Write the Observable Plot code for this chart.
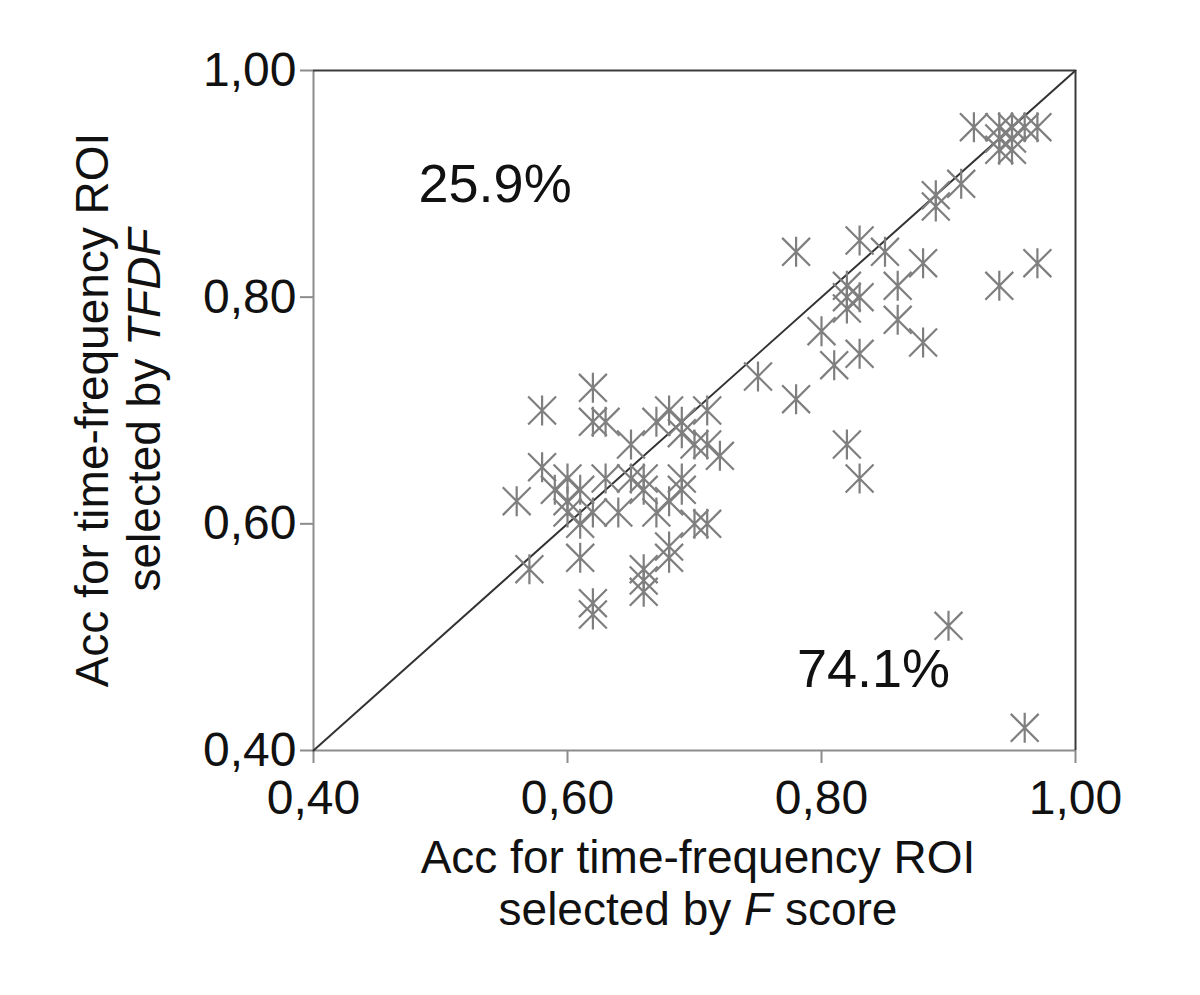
<!DOCTYPE html>
<html>
<head>
<meta charset="utf-8">
<script src="https://cdn.jsdelivr.net/npm/d3@7"></script>
<script src="https://cdn.jsdelivr.net/npm/@observablehq/plot@0.6"></script>
<style>
  html, body { margin: 0; padding: 0; background: #fff; }
  #chart { width: 1200px; height: 995px; }
  svg text { font-family: "Liberation Sans", Arial, sans-serif; }
</style>
</head>
<body>
<div id="chart"></div>
<script>
// Accuracy with F-score ROI (x) vs TFDF ROI (y)
const accF = [
  0.92, 0.94, 0.95, 0.96, 0.97, 0.94, 0.95, 0.95, 0.94, 0.91, 0.89, 0.89,
  0.97, 0.94, 0.96, 0.90,
  0.78, 0.83, 0.85, 0.88, 0.86, 0.82, 0.82, 0.83, 0.82, 0.86, 0.80, 0.83, 0.88, 0.81, 0.75, 0.78, 0.82, 0.83,
  0.62, 0.58, 0.62, 0.63, 0.68, 0.71, 0.67, 0.69, 0.70, 0.71, 0.72, 0.65, 0.69,
  0.58, 0.60, 0.63, 0.66, 0.66, 0.69, 0.69, 0.56, 0.60, 0.60, 0.61, 0.62, 0.64, 0.61,
  0.67, 0.68, 0.71, 0.70, 0.68, 0.68, 0.61, 0.57, 0.66, 0.66, 0.66, 0.62, 0.62, 0.65, 0.59
];
const accTFDF = [
  0.95, 0.95, 0.95, 0.95, 0.95, 0.93, 0.93, 0.94, 0.94, 0.90, 0.89, 0.88,
  0.83, 0.81, 0.42, 0.51,
  0.84, 0.85, 0.84, 0.83, 0.81, 0.81, 0.80, 0.80, 0.79, 0.78, 0.77, 0.75, 0.76, 0.74, 0.73, 0.71, 0.67, 0.64,
  0.72, 0.70, 0.69, 0.69, 0.70, 0.70, 0.69, 0.69, 0.67, 0.67, 0.66, 0.67, 0.68,
  0.65, 0.64, 0.64, 0.64, 0.63, 0.64, 0.63, 0.62, 0.62, 0.61, 0.60, 0.61, 0.61, 0.63,
  0.61, 0.62, 0.60, 0.60, 0.58, 0.57, 0.57, 0.56, 0.56, 0.55, 0.54, 0.53, 0.52, 0.64, 0.63
];
const xTicks = [0.40, 0.60, 0.80, 1.00];
const yTicks = [0.40, 0.60, 0.80, 1.00];
const diagonal = [0.40, 1.00];
const annoText = ["25.9%", "74.1%"];
const annoX = [0.543, 0.841];
const annoY = [0.899, 0.471];

const points = accF.map((x, i) => ({x, y: accTFDF[i]}));
const diagLine = diagonal.map(v => ({x: v, y: v}));
const annotations = annoText.map((t, i) => ({t, x: annoX[i], y: annoY[i]}));
const fmt = d => d.toFixed(2).replace(".", ",");

// Excel-style star marker: vertical bar plus an X
const starSymbol = {
  draw(ctx, size) {
    const r = Math.sqrt(size / Math.PI);
    const d = r * 0.93;
    ctx.moveTo(0, -r); ctx.lineTo(0, r);
    ctx.moveTo(-d, -d); ctx.lineTo(d, d);
    ctx.moveTo(-d, d); ctx.lineTo(d, -d);
  }
};

const chart = Plot.plot({
  width: 1200,
  height: 995,
  marginLeft: 313,
  marginRight: 125,
  marginTop: 70,
  marginBottom: 245,
  style: {fontFamily: '"Liberation Sans", Arial, sans-serif', background: "#fff"},
  x: {domain: [0.4, 1.0]},
  y: {domain: [0.4, 1.0]},
  marks: [
    Plot.axisX({ticks: xTicks, tickFormat: fmt, tickSize: 13, tickPadding: 16, fontSize: 48, stroke: "#8c8c8c", strokeWidth: 2, fill: "#111", label: null}),
    Plot.axisY({ticks: yTicks, tickFormat: fmt, tickSize: 13, tickPadding: 4, fontSize: 48, stroke: "#8c8c8c", strokeWidth: 2, fill: "#111", label: null}),
    Plot.ruleX([diagonal[0]], {stroke: "#8c8c8c", strokeWidth: 2}),
    Plot.ruleY([diagonal[0]], {stroke: "#8c8c8c", strokeWidth: 2}),
    Plot.ruleX([diagonal[1]], {stroke: "#3a3a3a", strokeWidth: 2}),
    Plot.ruleY([diagonal[1]], {stroke: "#3a3a3a", strokeWidth: 2}),
    Plot.line(diagLine, {x: "x", y: "y", stroke: "#333", strokeWidth: 2}),
    Plot.dot(points, {x: "x", y: "y", symbol: starSymbol, r: 15, stroke: "#7f7f7f", strokeWidth: 2.2, fill: "none"}),
    Plot.text(annotations, {x: "x", y: "y", text: "t", fontSize: 54, fill: "#111"})
  ]
});

document.getElementById("chart").appendChild(chart);

// Axis titles with partial italics
const svg = d3.select(chart);
const fam = '"Liberation Sans", Arial, sans-serif';
const xt = svg.append("text")
  .attr("text-anchor", "middle").attr("font-size", 46).attr("fill", "#111").attr("font-family", fam);
xt.append("tspan").attr("x", 698).attr("y", 873).text("Acc for time-frequency ROI");
const xl2 = xt.append("tspan").attr("x", 698).attr("y", 925);
xl2.append("tspan").text("selected by ");
xl2.append("tspan").attr("font-style", "italic").text("F");
xl2.append("tspan").text(" score");

const yt = svg.append("text")
  .attr("text-anchor", "middle").attr("font-size", 46).attr("fill", "#111").attr("font-family", fam)
  .attr("transform", "translate(0,410) rotate(-90)");
yt.append("tspan").attr("x", 0).attr("y", 108).text("Acc for time-frequency ROI");
const yl2 = yt.append("tspan").attr("x", 0).attr("y", 160);
yl2.append("tspan").text("selected by ");
yl2.append("tspan").attr("font-style", "italic").text("TFDF");
</script>
</body>
</html>
